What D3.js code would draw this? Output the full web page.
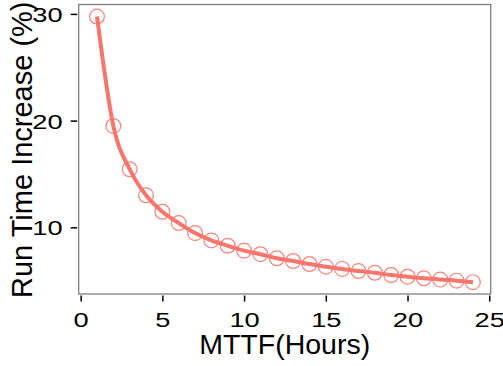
<!DOCTYPE html>
<html>
<head>
<meta charset="utf-8">
<script src="https://cdn.jsdelivr.net/npm/d3@7"></script>
<style>
  html, body { margin: 0; padding: 0; background: #fff; }
  svg { display: block; }
  text { font-family: "Liberation Sans", Arial, Helvetica, sans-serif; }
</style>
</head>
<body>
<svg id="chart" width="503" height="366"></svg>
<script>
// Data
const mttfHours = [1,2,3,4,5,6,7,8,9,10,11,12,13,14,15,16,17,18,19,20,21,22,23,24];
const runTimeIncrease = [29.75,19.5,15.44,13.0,11.46,10.4,9.46,8.77,8.27,7.82,7.48,7.1,6.84,6.56,6.31,6.1,5.9,5.74,5.53,5.37,5.22,5.1,5.0,4.86];
const xTicks = [0,5,10,15,20,25];
const yTicks = [10,20,30];
const xTitle = "MTTF(Hours)";
const yTitle = "Run Time Increase (%)";

const color = "#F8766D";
const svg = d3.select("#chart");

const panel = {left: 78.7, right: 490.7, top: 4.5, bottom: 294};
const x = d3.scaleLinear().domain([-0.12, 25.09]).range([panel.left, panel.right]);
const y = d3.scaleLinear().domain([3.75, 30.88]).range([panel.bottom, panel.top]);

// panel border
svg.append("rect")
  .attr("x", panel.left).attr("y", panel.top)
  .attr("width", panel.right - panel.left).attr("height", panel.bottom - panel.top)
  .attr("fill", "none").attr("stroke", "#7f7f7f").attr("stroke-width", 1.3);

// axes
const xAxis = d3.axisBottom(x).tickValues(xTicks).tickSize(6).tickPadding(3).tickFormat(d3.format("d"));
const gx = svg.append("g").attr("transform", `translate(0,${panel.bottom + 1.5})`).call(xAxis);
gx.select(".domain").remove();
gx.selectAll(".tick line").attr("stroke", "#000").attr("stroke-width", 1.5);
gx.selectAll(".tick text")
  .attr("font-size", 21).attr("fill", "#000")
  .attr("font-family", "Liberation Sans, Arial, sans-serif")
  .attr("y", 0).attr("dy", 0)
  .attr("transform", "translate(0,31.5) scale(1.3,1)");

const yAxis = d3.axisLeft(y).tickValues(yTicks).tickSize(6.5).tickPadding(8).tickFormat(d3.format("d"));
const gy = svg.append("g").attr("transform", `translate(${panel.left - 1.5},0)`).call(yAxis);
gy.select(".domain").remove();
gy.selectAll(".tick text")
  .attr("font-size", 21).attr("fill", "#000")
  .attr("font-family", "Liberation Sans, Arial, sans-serif")
  .attr("x", 0).attr("dy", "0.36em")
  .attr("transform", "translate(-14.5,0) scale(1.3,1)");
gy.selectAll(".tick line").attr("stroke", "#000").attr("stroke-width", 1.5);

// points
const pts = mttfHours.map((h, i) => [h, runTimeIncrease[i]]);
svg.append("g").selectAll("circle")
  .data(pts)
  .join("circle")
  .attr("cx", d => x(d[0])).attr("cy", d => y(d[1]))
  .attr("r", 7.4)
  .attr("fill", "none").attr("stroke", color).attr("stroke-width", 1.2).attr("stroke-opacity", 0.9);

// line
const line = d3.line().x(d => x(d[0])).y(d => y(d[1])).curve(d3.curveMonotoneX);
svg.append("path")
  .datum(pts)
  .attr("d", line)
  .attr("fill", "none").attr("stroke", color).attr("stroke-width", 4)
  .attr("stroke-linecap", "butt");

// titles
svg.append("text")
  .attr("x", (panel.left + panel.right) / 2).attr("y", 353.5)
  .attr("text-anchor", "middle").attr("font-size", 28.5).attr("fill", "#000")
  .text(xTitle);

svg.append("text")
  .attr("transform", `translate(31.5,${(panel.top + panel.bottom) / 2 + 0.5}) rotate(-90)`)
  .attr("text-anchor", "middle").attr("font-size", 29).attr("fill", "#000")
  .text(yTitle);
</script>
</body>
</html>
